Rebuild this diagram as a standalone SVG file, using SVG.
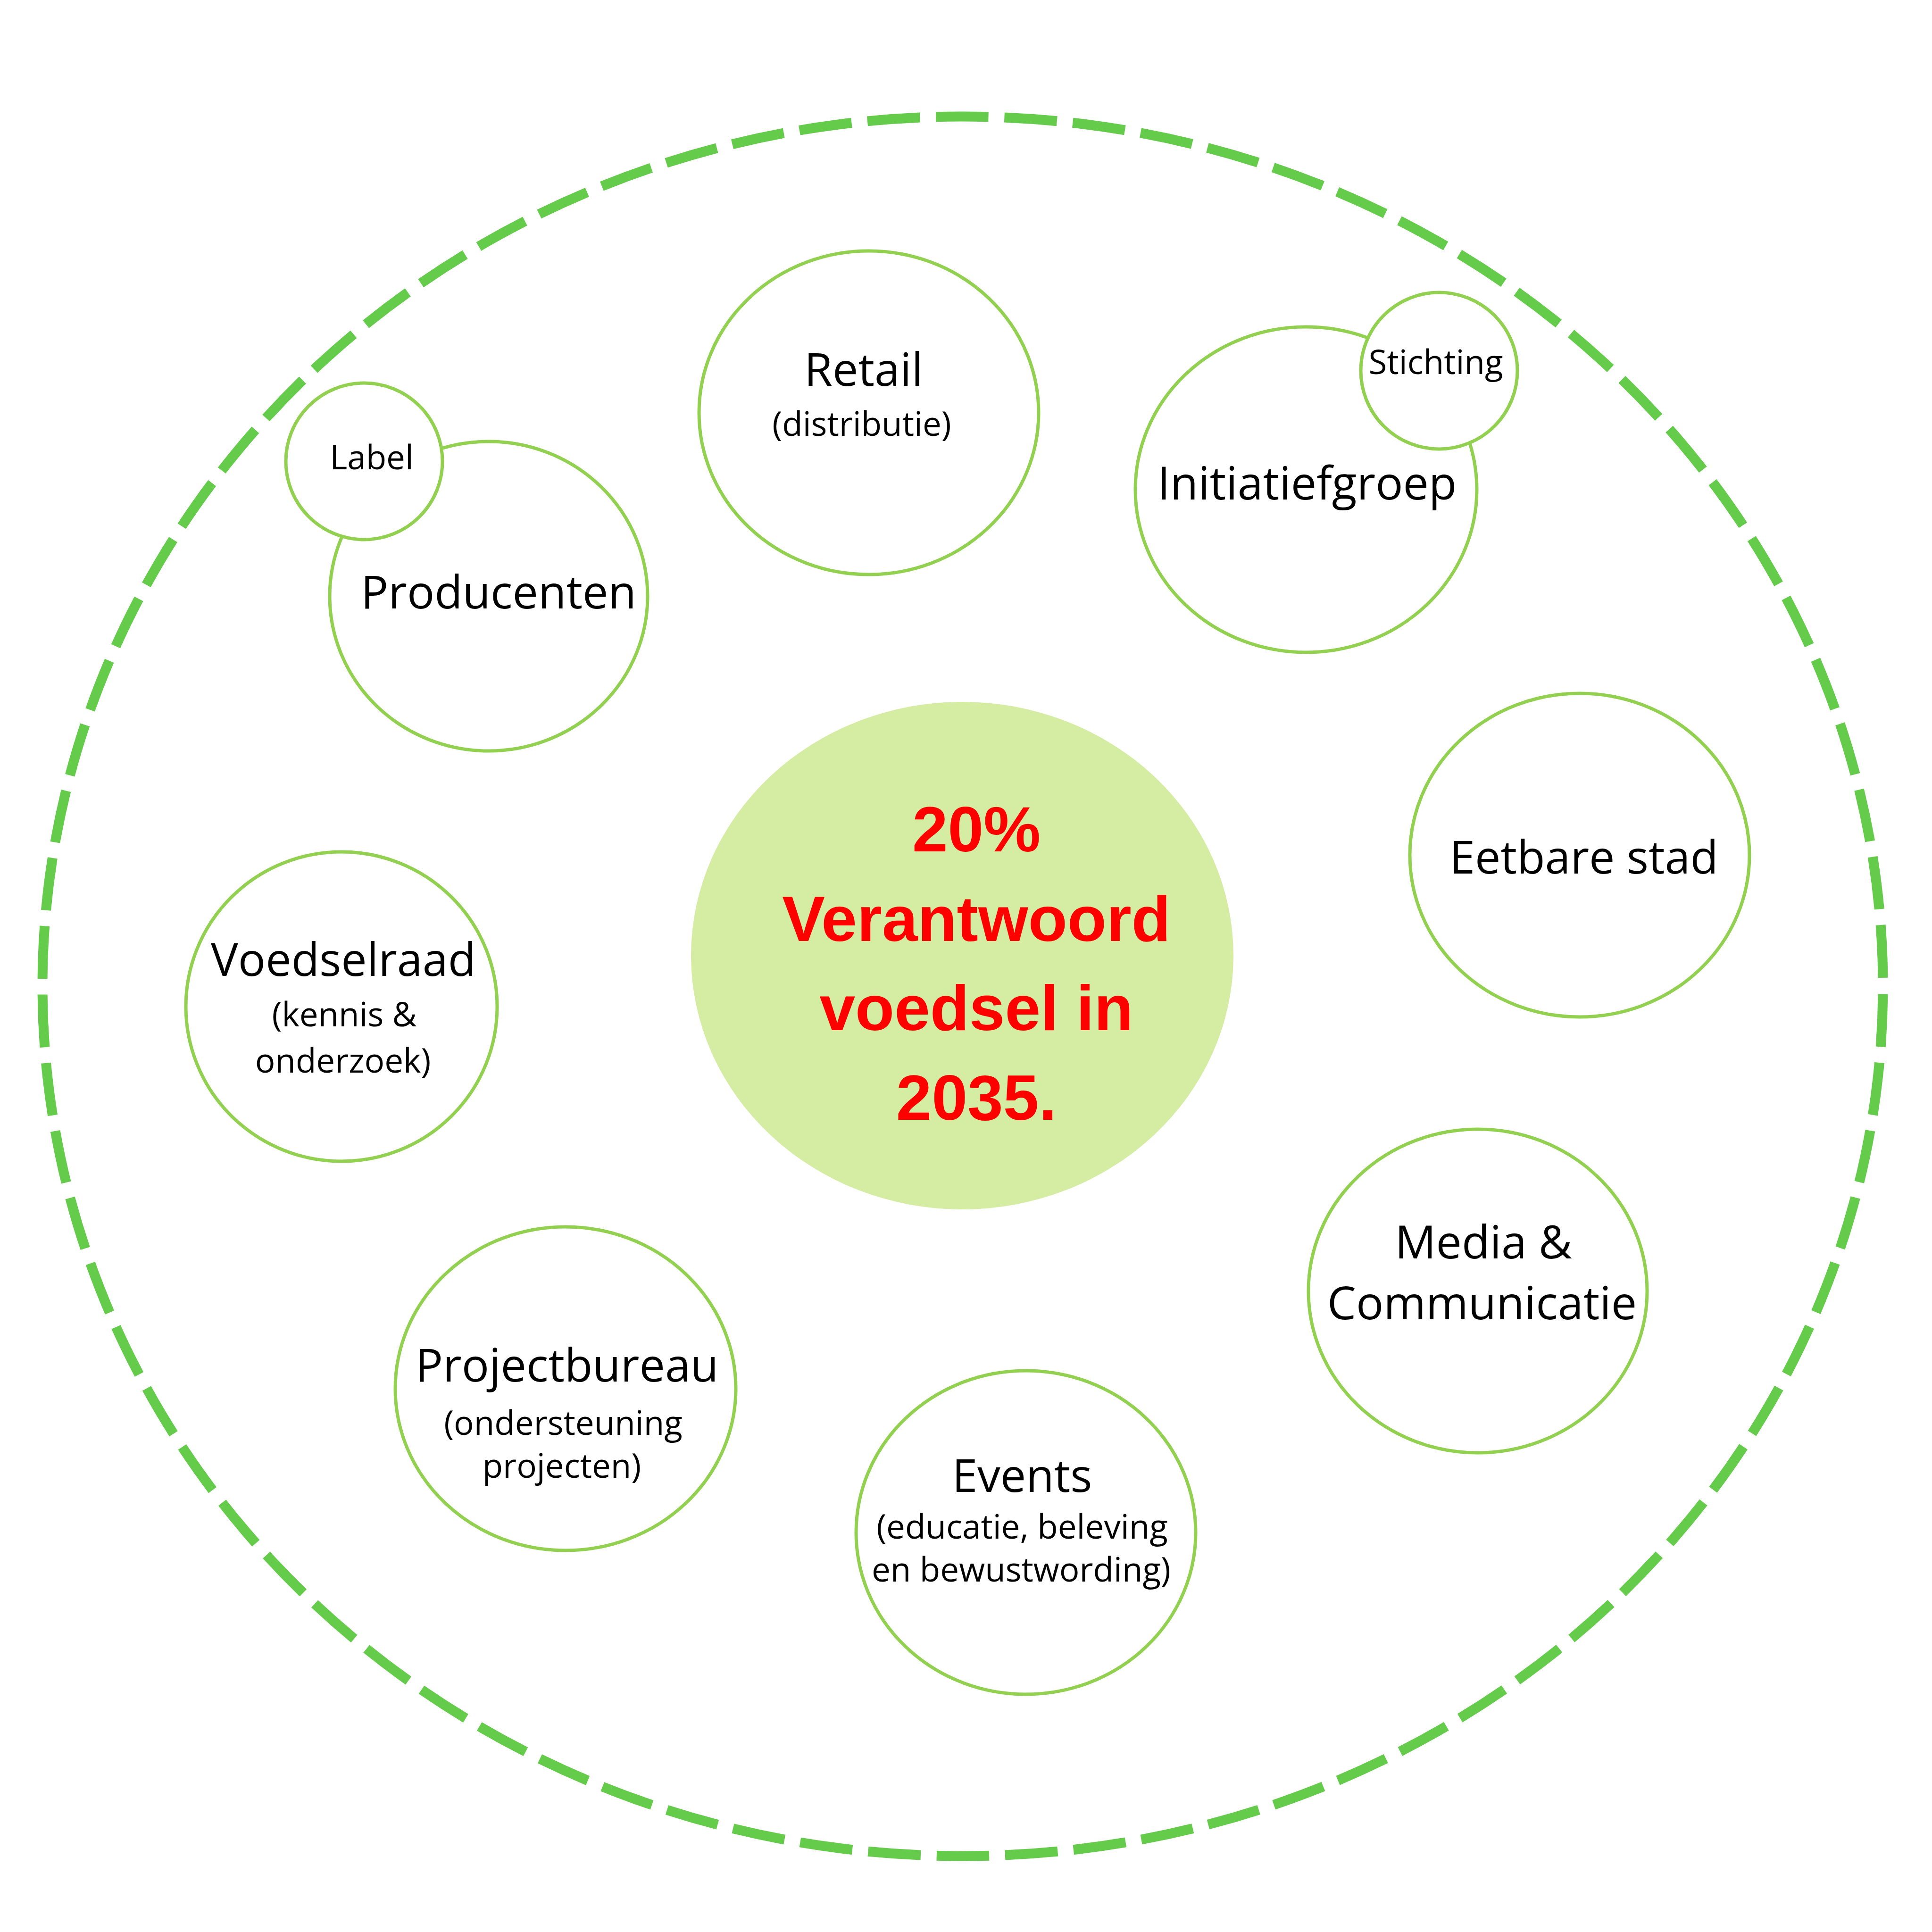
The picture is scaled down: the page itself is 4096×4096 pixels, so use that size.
<svg xmlns="http://www.w3.org/2000/svg" width="4096" height="4096" viewBox="0 0 4096 4096">
<style>
.bg{fill:#ffffff}
.node{fill:#ffffff;stroke:#92D050;stroke-width:7}
.outer{fill:none;stroke:#64CB4B;stroke-width:21;stroke-dasharray:111.7 33.7;stroke-dashoffset:128.6}
.core{fill:#D4EDA3;stroke:none}
.lg{font-family:"Open Sans","Noto Sans",sans-serif;font-size:97px;fill:#000000;text-anchor:middle}
.sm{font-family:"Open Sans","Noto Sans",sans-serif;font-size:71px;fill:#000000;text-anchor:middle}
.goal{font-family:"Liberation Sans",Arial,sans-serif;font-weight:bold;font-size:136px;fill:#FF0000;text-anchor:middle}
</style>
<rect class="bg" x="0" y="0" width="4096" height="4096"/>
<g id="boundary">
<ellipse class="outer" cx="2041" cy="2091" rx="1951" ry="1844"/>
</g>
<g id="connectors"></g>
<g id="goal">
<ellipse class="core" cx="2040" cy="2026" rx="575" ry="538"/>
<text class="goal" x="2070" y="1805">20%</text>
<text class="goal" x="2070" y="1995">Verantwoord</text>
<text class="goal" x="2070" y="2184">voedsel in</text>
<text class="goal" x="2070" y="2374">2035.</text>
</g>
<g id="retail">
<ellipse class="node" cx="1842" cy="875" rx="360" ry="343"/>
<text class="lg" x="1831" y="818">Retail</text>
<text class="sm" x="1827" y="924">(distributie)</text>
</g>
<g id="initiatiefgroep">
<ellipse class="node" cx="2769" cy="1038" rx="362" ry="345"/>
<text class="lg" x="2771" y="1059">Initiatiefgroep</text>
</g>
<g id="stichting">
<ellipse class="node" cx="3051" cy="786" rx="166" ry="166"/>
<text class="sm" x="3044" y="793">Stichting</text>
</g>
<g id="producenten">
<ellipse class="node" cx="1036" cy="1264" rx="337" ry="328"/>
<text class="lg" x="1057" y="1290">Producenten</text>
</g>
<g id="label">
<ellipse class="node" cx="772" cy="978" rx="166" ry="166"/>
<text class="sm" x="788" y="995">Label</text>
</g>
<g id="eetbare-stad">
<ellipse class="node" cx="3349" cy="1813" rx="360" ry="343"/>
<text class="lg" x="3358" y="1852">Eetbare stad</text>
</g>
<g id="voedselraad">
<ellipse class="node" cx="724" cy="2134" rx="330" ry="328"/>
<text class="lg" x="728" y="2069">Voedselraad</text>
<text class="sm" x="730" y="2176">(kennis &amp;</text>
<text class="sm" x="727" y="2274">onderzoek)</text>
</g>
<g id="media">
<ellipse class="node" cx="3133" cy="2737" rx="359" ry="343"/>
<text class="lg" x="3145" y="2668">Media &amp;</text>
<text class="lg" x="3142" y="2797">Communicatie</text>
</g>
<g id="projectbureau">
<ellipse class="node" cx="1199" cy="2944" rx="361" ry="343"/>
<text class="lg" x="1202" y="2929">Projectbureau</text>
<text class="sm" x="1194" y="3042">(ondersteuning</text>
<text class="sm" x="1191" y="3133">projecten)</text>
</g>
<g id="events">
<ellipse class="node" cx="2175" cy="3249" rx="360" ry="343"/>
<text class="lg" x="2167" y="3163">Events</text>
<text class="sm" x="2167" y="3262">(educatie, beleving</text>
<text class="sm" x="2165" y="3353">en bewustwording)</text>
</g>
</svg>
